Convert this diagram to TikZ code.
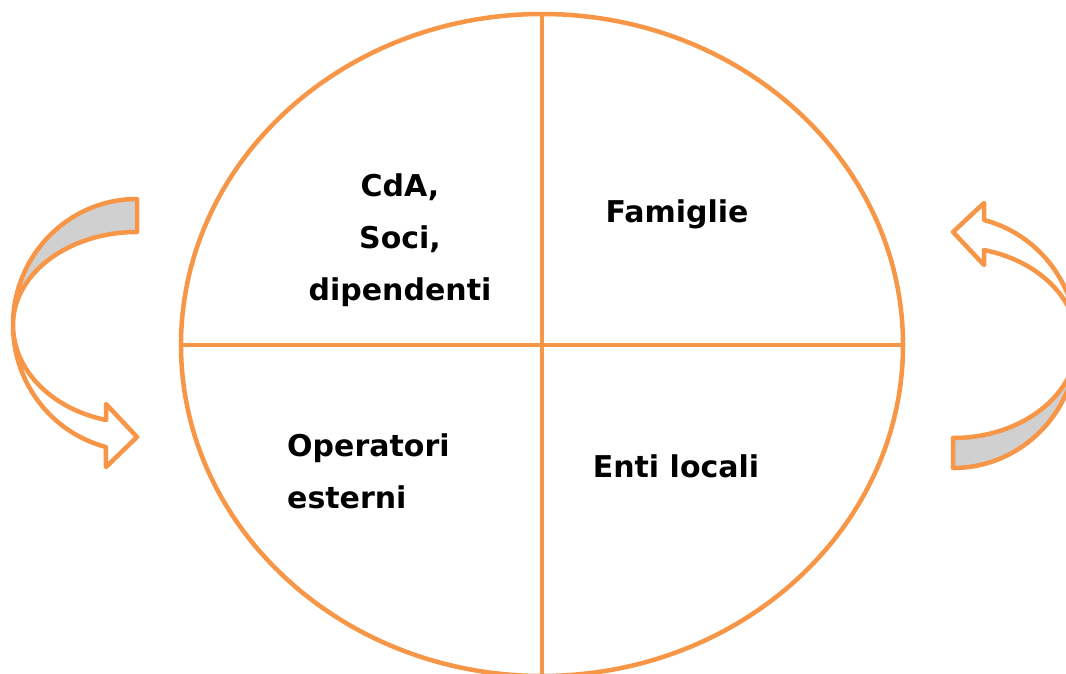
\documentclass[tikz,border=0pt]{standalone}
\usepackage{fontspec}
\setmainfont{DejaVu Sans}
\usetikzlibrary{shapes.geometric}
\definecolor{accor}{HTML}{F79646}
\definecolor{bandgray}{HTML}{D0D0D0}
\tikzset{
  outl/.style={draw=accor, line width=4.5pt, line join=round},
  lbl/.style={font=\fontsize{30}{52}\selectfont\bfseries, inner sep=0pt, align=center},
}
\begin{document}
\begin{tikzpicture}[x=1pt,y=-1pt]
\useasboundingbox (0,0) rectangle (1066,674);
\clip (0,0) rectangle (1066,674);
\fill[white] (0,0) rectangle (1066,674);
% circle
\node[ellipse, outl, minimum width=722pt, minimum height=662pt, inner sep=0pt, outer sep=0pt] (e) at (542,345) {};
\draw[outl] (e.north) -- (e.south);
\draw[outl] (e.west) -- (e.east);
% labels
\node[lbl] (q1) at (400,240) {CdA,\\Soci,\\dipendenti};
\node[lbl] (q2) at (677,214) {Famiglie};
\node[lbl, align=left, anchor=west] (q3) at (287,471) {Operatori\\esterni};
\node[lbl] (q4) at (676,466) {Enti locali};
% left curved arrow
\filldraw[outl, fill=bandgray] (137,199) arc[start angle=270, end angle=180, x radius=124, y radius=126]
  arc[start angle=180, end angle=270, x radius=124, y radius=93] -- cycle;
\filldraw[outl, fill=white] (13,325) arc[start angle=180, end angle=104.5, x radius=124, y radius=126]
  -- (106,467) -- (137,437) -- (106,404) -- (106,420)
  arc[start angle=104.5, end angle=180, x radius=124, y radius=98] -- cycle;
% right curved arrow
\filldraw[outl, fill=bandgray] (953,468) arc[start angle=90, end angle=0, x radius=124, y radius=126]
  arc[start angle=0, end angle=90, x radius=124, y radius=96] -- cycle;
\filldraw[outl, fill=white] (1077,342) arc[start angle=0, end angle=-75.5, x radius=124, y radius=126]
  -- (984,203) -- (953,232) -- (984,265) -- (984,250)
  arc[start angle=-75.5, end angle=0, x radius=124, y radius=95] -- cycle;
\end{tikzpicture}
\end{document}
